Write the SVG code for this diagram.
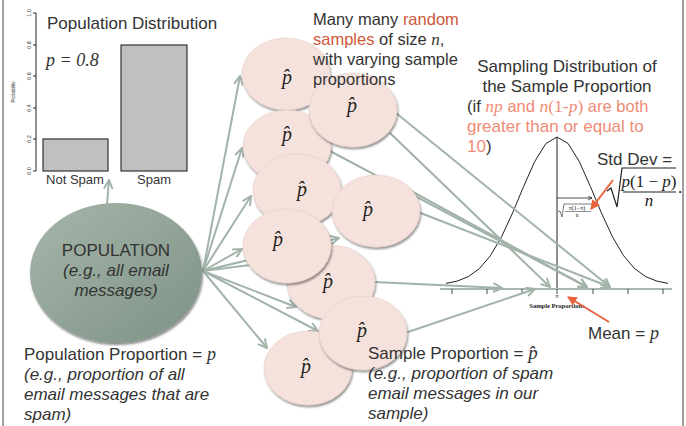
<svg xmlns="http://www.w3.org/2000/svg" width="686" height="426" viewBox="0 0 686 426">
<defs>
<style>
.t{font-family:"Liberation Sans",Arial,sans-serif;fill:#333;}
.s17{font-size:17px}
.s16{font-size:16.5px}
.it{font-style:italic}
.sf{font-family:"Liberation Serif","Times New Roman",serif}
.red{fill:#cd583a}
.sal{fill:#ef8b76}
.conn{stroke:#a2b3a9;stroke-width:2;fill:none;marker-end:url(#ah)}
.samp{fill:#f6e2dc;stroke:#e6cfc8;stroke-width:0.6;filter:url(#sh)}
.ph{font-family:"Liberation Serif","Times New Roman",serif;font-style:italic;font-size:20px;fill:#222;text-anchor:middle}
.tick{font-family:"Liberation Sans",Arial,sans-serif;font-size:5.5px;fill:#333;text-anchor:middle}
.ink{stroke:#222;fill:none}
.redarrow{stroke:#e8633d;stroke-width:2;fill:none;marker-end:url(#rh)}
</style>
<marker id="ah" viewBox="0 0 10 10" refX="9" refY="5" markerWidth="11" markerHeight="11" markerUnits="userSpaceOnUse" orient="auto">
<path d="M1,1 L9,5 L1,9" fill="none" stroke="#a2b3a9" stroke-width="1.8"/>
</marker>
<marker id="rh" viewBox="0 0 10 10" refX="9" refY="5" markerWidth="10" markerHeight="10" markerUnits="userSpaceOnUse" orient="auto">
<path d="M1,1 L9,5 L1,9 Z" fill="#e8633d" stroke="#e8633d" stroke-width="1"/>
</marker>
<marker id="kh" viewBox="0 0 10 10" refX="9" refY="5" markerWidth="5" markerHeight="5" markerUnits="userSpaceOnUse" orient="auto">
<path d="M1,1 L9,5 L1,9" fill="none" stroke="#222" stroke-width="1.5"/>
</marker>
<filter id="sh" x="-20%" y="-20%" width="140%" height="150%">
<feDropShadow dx="1" dy="2" stdDeviation="1.3" flood-color="#000" flood-opacity="0.45"/>
</filter>
<linearGradient id="pg" x1="0" y1="0" x2="1" y2="1">
<stop offset="0" stop-color="#a6b5aa"/>
<stop offset="1" stop-color="#7e9286"/>
</linearGradient>
</defs>

<rect width="686" height="426" fill="#fff"/>
<line x1="3" y1="0" x2="3" y2="426" stroke="#808080" stroke-width="1.5"/>
<line x1="683" y1="0" x2="683" y2="426" stroke="#808080" stroke-width="1.5"/>

<g id="bar-chart">
<line x1="36" y1="13" x2="36" y2="171" class="ink" stroke-width="1"/>
<g class="ink" stroke-width="1">
<line x1="33" y1="13" x2="36" y2="13"/><line x1="33" y1="45" x2="36" y2="45"/><line x1="33" y1="76" x2="36" y2="76"/>
<line x1="33" y1="108" x2="36" y2="108"/><line x1="33" y1="139" x2="36" y2="139"/><line x1="33" y1="171" x2="36" y2="171"/>
</g>
<text class="tick" transform="translate(31,13) rotate(-90)">1.0</text>
<text class="tick" transform="translate(31,45) rotate(-90)">0.8</text>
<text class="tick" transform="translate(31,76) rotate(-90)">0.6</text>
<text class="tick" transform="translate(31,108) rotate(-90)">0.4</text>
<text class="tick" transform="translate(31,139) rotate(-90)">0.2</text>
<text class="tick" transform="translate(31,171) rotate(-90)">0.0</text>
<text class="tick" style="font-size:4.5px" transform="translate(15,92) rotate(-90)">Probability</text>
<rect x="43" y="139" width="65" height="32" fill="#c0c0c0" stroke="#333" stroke-width="1.2"/>
<rect x="121" y="45" width="66" height="126" fill="#c0c0c0" stroke="#333" stroke-width="1.2"/>
<text class="t" x="75" y="184" font-size="13" text-anchor="middle">Not Spam</text>
<text class="t" x="154" y="184" font-size="13" text-anchor="middle">Spam</text>
<text class="t s17" x="47" y="29">Population Distribution</text>
<text class="t sf it" x="46" y="66" font-size="18" fill="#444">p = 0.8</text>
</g>

<g id="sampling-dist">
<path d="M446,283.4 L457.1,281.1 L468.2,276.7 L479.3,268.7 L490.4,255.7 L501.5,236.9 L512.6,212.9 L523.7,186.3 L534.8,161.4 L545.9,143.5 L557,137 L568.1,143.5 L579.2,161.4 L590.3,186.3 L601.4,212.9 L612.5,236.9 L623.6,255.7 L634.7,268.7 L645.8,276.7 L656.9,281.1 L668,283.4" class="ink" stroke-width="1" stroke-linejoin="round"/>
<line x1="557" y1="137" x2="557" y2="289" class="ink" stroke-width="1"/>
<line x1="440" y1="289" x2="672" y2="289" stroke="#a8b6ad" stroke-width="2"/>
<g class="ink" stroke-width="0.8">
<line x1="452" y1="289" x2="452" y2="294"/><line x1="487" y1="289" x2="487" y2="294"/><line x1="522" y1="289" x2="522" y2="294"/>
<line x1="557" y1="289" x2="557" y2="294"/><line x1="593" y1="289" x2="593" y2="294"/><line x1="628" y1="289" x2="628" y2="294"/>
<line x1="663" y1="289" x2="663" y2="294"/>
</g>
<line x1="557" y1="198" x2="592" y2="198" stroke="#222" stroke-width="0.8" marker-end="url(#kh)"/>
<path d="M558,212 L560,211 L562,217 L564,204 L592,204" class="ink" stroke-width="0.6"/>
<text class="sf" x="577" y="210" font-size="6" text-anchor="middle" fill="#222">π(1−π)</text>
<line x1="565" y1="211.5" x2="591" y2="211.5" stroke="#222" stroke-width="0.5"/>
<text class="sf" x="577" y="217" font-size="5.5" text-anchor="middle" fill="#222">n</text>
<text class="sf" x="557" y="298" font-size="6" text-anchor="middle" fill="#222">π</text>
<text class="sf" x="557" y="308" font-size="6.5" font-weight="bold" text-anchor="middle" fill="#222">Sample Proportions</text>
</g>

<g id="connectors">
<line x1="107" y1="204" x2="109" y2="180" class="conn"/>
<line x1="203" y1="271" x2="240" y2="76" class="conn"/>
<line x1="203" y1="271" x2="242" y2="148" class="conn"/>
<line x1="203" y1="271" x2="251" y2="196" class="conn"/>
<line x1="203" y1="271" x2="242" y2="249" class="conn"/>
<line x1="203" y1="271" x2="258" y2="264" stroke="#a2b3a9" stroke-width="2"/>
<line x1="203" y1="271" x2="339" y2="238" class="conn"/>
<line x1="203" y1="271" x2="296" y2="307" class="conn"/>
<line x1="203" y1="271" x2="318" y2="331" class="conn"/>
<line x1="203" y1="271" x2="267" y2="348" class="conn"/>
<line x1="396" y1="113" x2="610" y2="287" class="conn"/>
<line x1="390" y1="133" x2="550" y2="287" class="conn"/>
<line x1="328" y1="150" x2="587" y2="287" class="conn"/>
<line x1="411" y1="191" x2="587" y2="287" class="conn"/>
<line x1="418" y1="212" x2="610" y2="287" class="conn"/>
<line x1="374" y1="282" x2="502" y2="288" class="conn"/>
<line x1="405" y1="333" x2="535" y2="289" class="conn"/>
</g>

<g id="population">
<ellipse cx="116" cy="273" rx="86" ry="70" fill="url(#pg)" filter="url(#sh)"/>
<text class="t s17" x="116" y="256" text-anchor="middle">POPULATION</text>
<text class="t s17 it" x="116" y="276" text-anchor="middle">(e.g., all email</text>
<text class="t s17 it" x="116" y="296" text-anchor="middle">messages)</text>
</g>

<g id="sample1"><ellipse class="samp" cx="286" cy="74" rx="44" ry="36"/><text class="ph" x="287" y="84">p&#x302;</text></g>
<g id="sample3"><ellipse class="samp" cx="287" cy="146" rx="44" ry="36"/><text class="ph" x="287" y="141">p&#x302;</text></g>
<g id="sample2"><ellipse class="samp" cx="353" cy="110" rx="44" ry="37"/><text class="ph" x="352" y="112">p&#x302;</text></g>
<g id="sample4"><ellipse class="samp" cx="297" cy="190" rx="44" ry="36"/><text class="ph" x="302" y="196">p&#x302;</text></g>
<g id="sample5"><ellipse class="samp" cx="376" cy="211" rx="44" ry="36"/><text class="ph" x="368" y="216">p&#x302;</text></g>
<g id="sample9"><ellipse class="samp" cx="308" cy="368" rx="44" ry="37"/><text class="ph" x="306" y="373">p&#x302;</text></g>
<g id="sample7"><ellipse class="samp" cx="331" cy="282" rx="44" ry="37"/><text class="ph" x="328" y="288">p&#x302;</text></g>
<g id="sample6"><ellipse class="samp" cx="287" cy="246" rx="44" ry="37"/><text class="ph" x="278" y="246">p&#x302;</text></g>
<g id="sample8"><ellipse class="samp" cx="363" cy="333" rx="44" ry="37"/><text class="ph" x="362" y="337">p&#x302;</text></g>

<g id="samples-caption">
<text class="t s16" x="313" y="25">Many many <tspan class="red">random</tspan></text>
<text class="t s16" x="313" y="45"><tspan class="red">samples</tspan> of size <tspan class="sf it" font-size="17">n</tspan>,</text>
<text class="t s16" x="313" y="65">with varying sample</text>
<text class="t s16" x="313" y="85">proportions</text>
</g>

<g id="sampling-caption">
<text class="t s17" x="567" y="72" text-anchor="middle">Sampling Distribution of</text>
<text class="t s17" x="567" y="92" text-anchor="middle">the Sample Proportion</text>
<text class="t" x="467" y="112" font-size="16.5">(if <tspan class="sal sf it" font-size="17.5">np</tspan><tspan class="sal"> and </tspan><tspan class="sal sf it" font-size="17.5">n</tspan><tspan class="sal sf" font-size="17.5">(1-</tspan><tspan class="sal sf it" font-size="17.5">p</tspan><tspan class="sal sf" font-size="17.5">)</tspan><tspan class="sal"> are both</tspan></text>
<text class="t s17 sal" x="467" y="132">greater than or equal to</text>
<text class="t s17" x="467" y="152"><tspan class="sal">10</tspan>)</text>
</g>

<g id="std-dev">
<text class="t s17" x="597" y="165">Std Dev =</text>
<path d="M607,191 L611,188 L617,207 L622,168 L676,168" class="ink" stroke-width="1.2"/>
<text class="sf" x="649" y="187" font-size="17" text-anchor="middle" fill="#222"><tspan font-style="italic">p</tspan>(1 − <tspan font-style="italic">p</tspan>)</text>
<line x1="623" y1="192" x2="676" y2="192" stroke="#222" stroke-width="1.2"/>
<text class="sf it" x="649" y="206" font-size="17" text-anchor="middle" fill="#222">n</text>
<text class="sf" x="678" y="193" font-size="17" fill="#222">.</text>
<line x1="613" y1="180" x2="591" y2="209" class="redarrow"/>
</g>

<g id="mean">
<line x1="609" y1="322" x2="568" y2="297" class="redarrow"/>
<text class="t s17" x="588" y="339">Mean = <tspan class="sf it" font-size="18">p</tspan></text>
</g>

<g id="population-caption">
<text class="t s17" x="24" y="360">Population Proportion = <tspan class="sf it" font-size="18">p</tspan></text>
<text class="t s17 it" x="24" y="380">(e.g., proportion of all</text>
<text class="t s17 it" x="24" y="400">email messages that are</text>
<text class="t s17 it" x="24" y="420">spam)</text>
</g>

<g id="sample-caption">
<text class="t s17" x="368" y="359">Sample Proportion = <tspan class="sf it" font-size="19">p&#x302;</tspan></text>
<text class="t s17 it" x="368" y="379">(e.g., proportion of spam</text>
<text class="t s17 it" x="368" y="399">email messages in our</text>
<text class="t s17 it" x="368" y="419">sample)</text>
</g>
</svg>
